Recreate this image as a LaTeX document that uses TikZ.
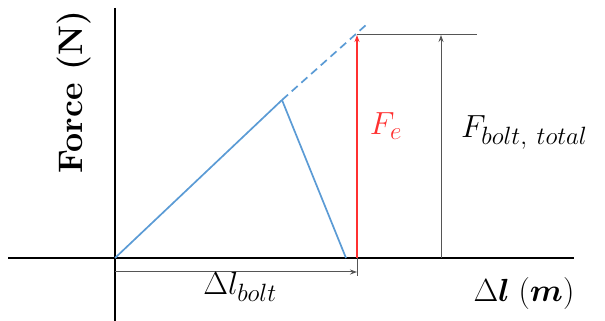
\RequirePackage{fix-cm}
\documentclass[tikz,border=0pt]{standalone}
\usepackage{amsmath,amssymb}
\usepackage{fontspec}
\usepackage{xcolor}
\usepackage{tikz}
\usetikzlibrary{arrows.meta,positioning}
\DeclareMathSizes{32}{32}{25}{18}
\definecolor{lineblue}{HTML}{5B9BD5}
\definecolor{forcered}{HTML}{FF3030}
\definecolor{dimgray}{HTML}{555555}

\begin{document}
\begin{tikzpicture}[x=1pt,y=1pt,font=\fontsize{32}{38}\selectfont,
  axis/.style={line width=2.2pt,black},
  curve/.style={line width=1.7pt,draw=lineblue},
  dim/.style={line width=1pt,draw=dimgray},
  lbl/.style={inner sep=0pt,anchor=base},
  >={Stealth[length=7pt,width=5pt]}]
\useasboundingbox (0,0) rectangle (605,321);
% points of the plot
\coordinate (o) at (115,63);
\coordinate (ytop) at (115,313);
\coordinate (ybot) at (115,0);
\coordinate (xl) at (8,63);
\coordinate (xr) at (574,63);
\coordinate (peak) at (282,221);
\coordinate (ext) at (366,296);
\coordinate (foot) at (346,63);
\coordinate (fe0) at (357,63);
\coordinate (fe1) at (357,286);
\coordinate (top1) at (477,286);
\coordinate (ft0) at (441,63);
\coordinate (ft1) at (441,286);
\coordinate (dl0) at (115,49);
\coordinate (dl1) at (357,49);
\coordinate (tick) at (357,45);
% axes
\draw[axis] (ytop)--(ybot);
\draw[axis] (xl)--(xr);
% stiffness lines
\draw[curve] (o)--(peak);
\draw[curve,dash pattern=on 8pt off 5pt] (peak)--(ext);
\draw[curve] (peak)--(foot);
% forces and elongation
\draw[dim] (fe1)--(top1);
\draw[dim,->] (ft0)--(ft1);
\draw[line width=2pt,forcered,->] (fe0)--(fe1);
\draw[dim] (fe0)--(tick);
\draw[dim,->] (dl0)--(dl1);
% labels
\node[inner sep=0pt,rotate=90] (ylab) at (74,229) {\fontsize{34}{40}\selectfont\bfseries Force (N)};
\node[lbl,text=forcered] (felab) at (386,186) {$F_e$};
\node[lbl,anchor=base west] (ftlab) at (461,183) {$F_{bolt,\ total}$};
\node[lbl] (dllab) at (240,26) {$\Delta l_{bolt}$};
\node[lbl] (xlab) at (524,19) {$\Delta\boldsymbol{l}\;(\boldsymbol{m})$};
\end{tikzpicture}
\end{document}
